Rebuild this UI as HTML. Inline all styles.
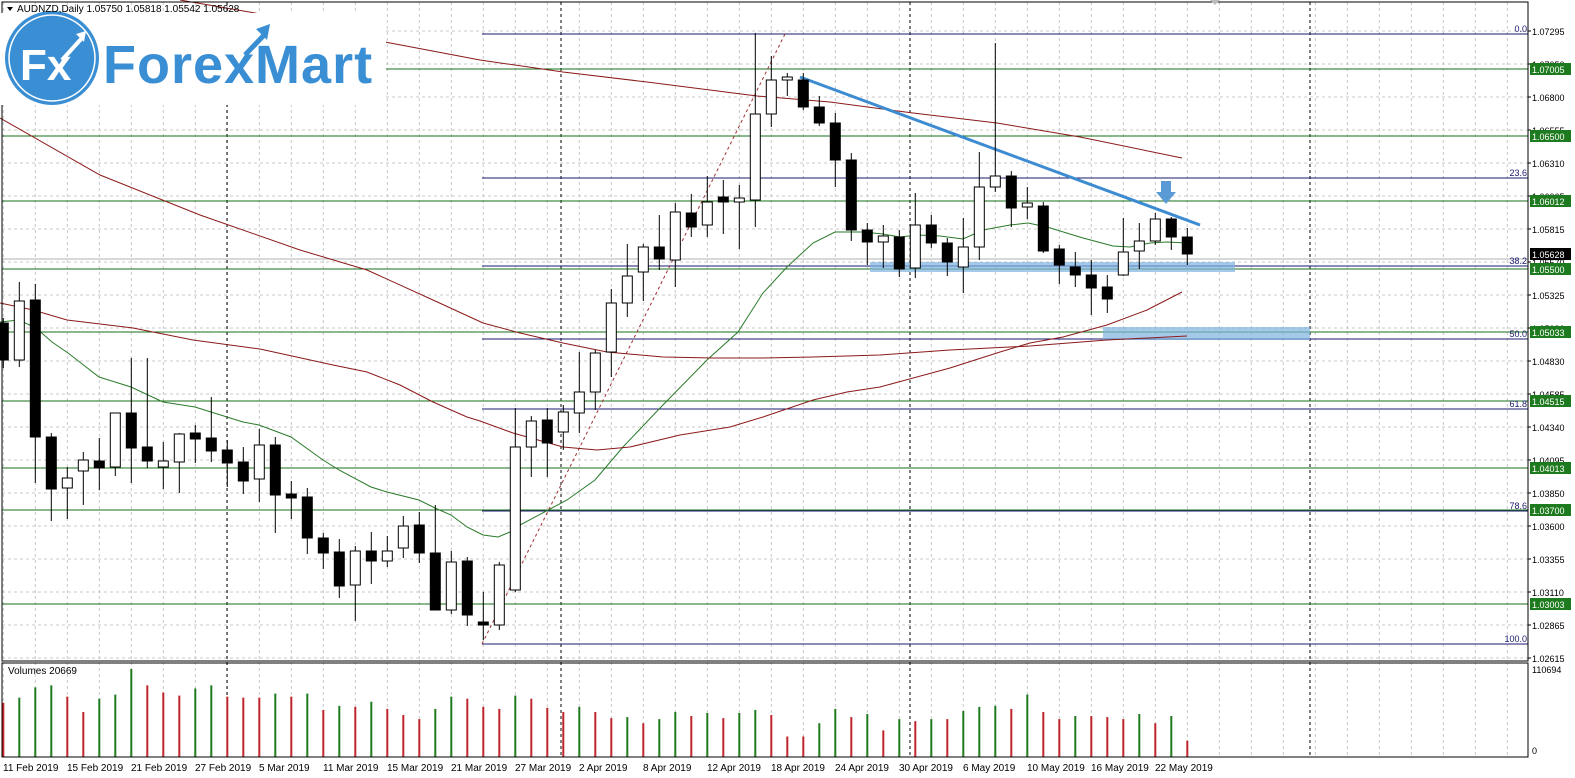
<!DOCTYPE html>
<html><head><meta charset="utf-8"><style>
html,body{margin:0;padding:0;background:#fff;}
svg{display:block;font-family:"Liberation Sans",sans-serif;}
</style></head><body>
<svg id="s" width="1575" height="778" xmlns="http://www.w3.org/2000/svg">
<rect width="1575" height="778" fill="#fff"/>
<g id="grid"></g>
<g id="lines"></g>
<g id="ma"></g>
<g id="cand"></g>
<g id="vol"></g>
<g id="ax"></g>
<rect x="0" y="13" width="386" height="92" fill="#fff"/>
<circle cx="52" cy="58" r="47" fill="#3a8fd4"/>
<circle cx="52" cy="58" r="43" fill="none" stroke="#fff" stroke-width="1.5"/>
<text x="20" y="80" font-size="44" font-weight="bold" fill="#fff">Fx</text>
<path d="M62 60 L82 38" stroke="#fff" stroke-width="4"/>
<polygon points="76,34 86,31 84,42" fill="#fff"/>
<text x="103" y="83" font-size="54" font-weight="bold" fill="#3a8fd4" letter-spacing="1">ForexMart</text>
<path d="M245 55 L266 33" stroke="#3a8fd4" stroke-width="5"/>
<polygon points="256,29 270,24 267,40" fill="#3a8fd4"/>
<polygon points="7,7 13,7 10,11" fill="#000"/>
<text x="17" y="12" font-size="10" fill="#000">AUDNZD,Daily  1.05750 1.05818 1.05542 1.05628</text>
</svg>
<script>
const NS="http://www.w3.org/2000/svg";
const R=1528;
function el(g,t,a,txt){const e=document.createElementNS(NS,t);for(const k in a)e.setAttribute(k,a[k]);if(txt!==undefined)e.textContent=txt;document.getElementById(g).appendChild(e);return e;}
for(let k=0;k<20;k++){const y=31+33*k;el('grid','line',{x1:2,x2:R,y1:y,y2:y,stroke:'#c8c8c8','stroke-dasharray':'3,3'});}
for(let x=3.3;x<R;x+=32){el('grid','line',{x1:x,x2:x,y1:2,y2:757,stroke:'#c8c8c8','stroke-dasharray':'3,3'});}
[227,561,910,1310].forEach(x=>el('grid','line',{x1:x,x2:x,y1:2,y2:757,stroke:'#000','stroke-dasharray':'3,3'}));
el('lines','line',{x1:2,x2:R,y1:259,y2:259,stroke:'#b0b0b0'});
[69,136,201,269,332,401,468,510,604].forEach(y=>el('lines','line',{x1:2,x2:R,y1:y,y2:y,stroke:'#1a6e1a'}));
[[34,'0.0'],[178,'23.6'],[266,'38.2'],[339,'50.0'],[409,'61.8'],[511,'78.6'],[644,'100.0']].forEach(f=>{el('lines','line',{x1:482,x2:R,y1:f[0],y2:f[0],stroke:'#1a1a6e'});el('lines','text',{x:R-1,y:f[0]-2,'font-size':9,'text-anchor':'end',fill:'#1a1a6e'},f[1]);});
el('lines','line',{x1:482,y1:644,x2:785,y2:34,stroke:'#a03030','stroke-dasharray':'3,3'});
el('lines','rect',{x:870,y:262,width:365,height:10,fill:'#7fb2e0',opacity:0.7});
el('lines','rect',{x:1103,y:327,width:207,height:13,fill:'#7fb2e0',opacity:0.7});
function pl(pts,c,w){el('ma','polyline',{points:pts.map(p=>p.join(',')).join(' '),fill:'none',stroke:c,'stroke-width':w||1});}
pl([[0,322],[19,320],[36,328],[52,342],[68,353],[99,377],[131,387],[163,402],[195,407],[227,417],[243,422],[259,425],[291,437],[323,460],[339,470],[371,487],[387,492],[419,500],[435,508],[451,515],[467,527],[483,535],[498,537],[510,532],[520,525],[567,500],[595,480],[623,447],[660,408],[707,360],[738,332],[763,293],[787,267],[813,243],[835,232],[863,232],[883,234],[900,237],[917,235],[940,236],[963,239],[983,230],[1010,225],[1028,223],[1047,227],[1083,238],[1113,246],[1130,247],[1150,243],[1167,242],[1187,243]],'#2a7a2a');
pl([[0,303],[33,310],[67,320],[133,328],[193,340],[260,349],[333,365],[367,372],[400,385],[433,402],[467,417],[480,421],[513,433],[563,447],[597,450],[630,447],[680,435],[730,427],[763,417],[813,400],[847,392],[880,387],[950,368],[1000,352],[1030,343],[1063,337],[1107,325],[1147,310],[1182,292]],'#8b1a1a');
pl([[0,118],[100,175],[200,215],[300,250],[367,270],[433,300],[483,323],[520,333],[563,343],[607,352],[663,357],[713,358],[763,358],[813,357],[880,355],[950,350],[1030,346],[1107,340],[1187,336]],'#8b1a1a');
pl([[180,0],[255,13],[385,42],[480,60],[563,72],[647,82],[757,96],[830,102],[913,113],[997,123],[1080,137],[1182,158]],'#8b1a1a');
el('ma','line',{x1:800,y1:77,x2:1200,y2:225,stroke:'#3d8bd0','stroke-width':3});
el('ma','polygon',{points:'1161,181 1171,181 1171,192 1176,192 1166,204 1156,192 1161,192',fill:'#5b9bd5'});
const C=[[323,360,318,368],[360,301,282,367],[300,437,284,483],[437,489,433,521],[488,478,467,519],[471,460,452,505],[461,468,438,490],[467,413,413,476],[413,448,358,483],[447,461,358,468],[467,461,442,489],[462,434,433,493],[433,439,425,463],[438,451,397,462],[450,463,440,487],[462,481,447,494],[479,445,429,502],[445,495,437,533],[494,498,481,519],[497,538,488,554],[538,553,533,569],[552,586,539,598],[585,551,546,621],[551,561,532,584],[561,551,536,567],[548,526,516,558],[525,553,512,563],[553,610,505,610],[610,562,551,614],[561,615,557,626],[622,625,592,640],[625,565,562,630],[590,447,408,592],[447,421,416,477],[420,443,408,477],[432,412,405,450],[413,392,352,433],[392,353,350,410],[352,303,289,377],[303,276,244,317],[272,247,244,301],[247,259,215,270],[260,212,203,287],[213,227,194,237],[225,202,176,237],[197,202,180,234],[202,198,185,249],[200,114,33,227],[114,80,56,127],[80,77,73,96],[80,107,73,110],[107,123,96,126],[123,160,113,187],[160,230,153,241],[230,242,223,265],[242,236,225,268],[237,269,230,277],[268,225,193,278],[225,243,215,248],[243,262,238,276],[267,247,218,293],[247,187,152,260],[187,176,43,192],[176,208,171,227],[207,203,187,219],[206,251,202,253],[249,265,245,284],[267,275,252,287],[275,288,260,315],[287,299,275,313],[275,252,218,276],[251,241,223,269],[241,219,213,245],[219,237,217,250],[237,254,228,265]];
C.forEach((c,i)=>{const x=3.3+16*i;const top=Math.min(c[0],c[1]),bot=Math.max(c[0],c[1]);const up=c[1]<c[0];
el('cand','line',{x1:x,x2:x,y1:c[2],y2:c[3],stroke:'#000'});
el('cand','rect',{x:x-5,y:top,width:10,height:Math.max(bot-top,1),fill:up?'#fff':'#000',stroke:'#000'});});
const V=[699,694,684,682,693,708,695,691,666,682,689,692,685,682,693,694,694,690,693,690,706,702,703,698,705,711,715,705,693,695,703,705,692,695,704,708,703,708,714,713,719,715,708,712,709,714,709,706,711,732,732,719,705,713,710,726,715,717,715,715,707,703,702,705,691,708,715,712,712,713,715,710,719,712,736];
const VC="RGGGRRGGGRRRGGRRRGRGRGRGRRRGGRRRGRRRGRRGRGGRGRGGRRRGGRGRGRGRGGGRGRRGRRRGRGR";
V.forEach((v,i)=>{const x=3.3+16*i;const t=757-(752-v)*(88/86);el('vol','line',{x1:x,x2:x,y1:t,y2:757,stroke:VC[i]=='G'?'#1e7a1e':'#c0242a','stroke-width':2});});
el('ax','rect',{x:2,y:2,width:R-2,height:659,fill:'none',stroke:'#000'});
el('ax','rect',{x:2,y:663,width:R-2,height:94,fill:'none',stroke:'#000'});
el('ax','text',{x:8,y:674,'font-size':10},'Volumes 20669');
el('ax','text',{x:R+4,y:673,'font-size':9},'110694');
el('ax','text',{x:R+4,y:754,'font-size':9},'0');
const PL=['1.07295','1.07050','1.06800','1.06555','1.06310','1.06065','1.05815','1.05570','1.05325','1.05080','1.04830','1.04585','1.04340','1.04095','1.03850','1.03600','1.03355','1.03110','1.02865','1.02615'];
PL.forEach((p,k)=>{const y=31+33*k;el('ax','line',{x1:R,x2:R+3,y1:y,y2:y,stroke:'#000'});el('ax','text',{x:R+4,y:y+4,'font-size':9},p);});
[[69,'1.07005'],[136,'1.06500'],[201,'1.06012'],[269,'1.05500'],[332,'1.05033'],[401,'1.04515'],[468,'1.04013'],[510,'1.03700'],[604,'1.03003']].forEach(b=>{el('ax','rect',{x:R+2,y:b[0]-6,width:41,height:12,fill:'#1e7a1e'});el('ax','text',{x:R+4,y:b[0]+4,'font-size':9,fill:'#fff'},b[1]);});
el('ax','rect',{x:R+2,y:248,width:41,height:12,fill:'#000'});el('ax','text',{x:R+4,y:258,'font-size':9,fill:'#fff'},'1.05628');
const D=['11 Feb 2019','15 Feb 2019','21 Feb 2019','27 Feb 2019','5 Mar 2019','11 Mar 2019','15 Mar 2019','21 Mar 2019','27 Mar 2019','2 Apr 2019','8 Apr 2019','12 Apr 2019','18 Apr 2019','24 Apr 2019','30 Apr 2019','6 May 2019','10 May 2019','16 May 2019','22 May 2019'];
D.forEach((d,k)=>el('ax','text',{x:3+64*k,y:771,'font-size':10},d));
el('ax','polygon',{points:'1210,0 1220,0 1215,5',fill:'#bbb'});
</script>
</body></html>
